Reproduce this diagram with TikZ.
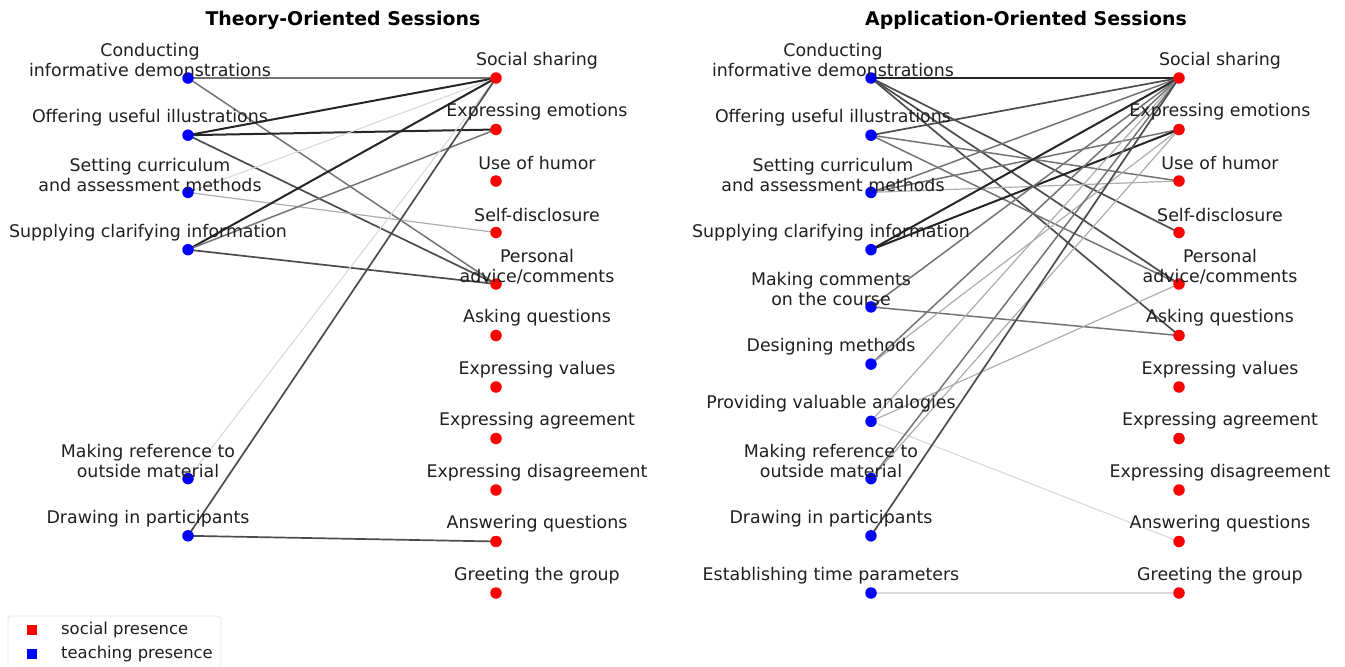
\documentclass[tikz,border=0pt]{standalone}
\usepackage{fontspec}
\setmainfont{DejaVu Sans}
\begin{document}
\begin{tikzpicture}[x=1pt,y=-1pt,
  tdot/.style={circle,fill=blue,inner sep=0pt,minimum size=11.5pt},
  sdot/.style={circle,fill=red,inner sep=0pt,minimum size=11.5pt},
  lab/.style={font=\fontsize{17.4}{20}\selectfont,align=center,inner sep=0pt,text=black!88,yshift=-1.5pt},
  ttl/.style={font=\fontsize{18.9}{22}\selectfont\bfseries,inner sep=0pt},
  dk/.style={draw=black!85,line width=2pt},
  dm/.style={draw=black!70,line width=1.7pt},
  md/.style={draw=black!55,line width=1.5pt},
  lt/.style={draw=black!32,line width=1.2pt},
  vl/.style={draw=black!15,line width=1.1pt},
  legtext/.style={font=\fontsize{16.4}{18}\selectfont,anchor=west,inner sep=0pt,text=black!88}]
\useasboundingbox (0,0) rectangle (1345,667);

% ---------- titles
\node[ttl] (t1) at (343,20) {Theory-Oriented Sessions};
\node[ttl] (t2) at (1026,20) {Application-Oriented Sessions};

% ---------- left panel nodes
\coordinate (lC) at (188,78);
\coordinate (lO) at (188,135.2);
\coordinate (lS) at (188,192.4);
\coordinate (lSu) at (188,249.7);
\coordinate (lM) at (188,478.6);
\coordinate (lD) at (188,535.8);

\coordinate (lSS) at (496,78);
\coordinate (lEE) at (496,129.5);
\coordinate (lUH) at (496,181);
\coordinate (lSD) at (496,232.5);
\coordinate (lPA) at (496,284);
\coordinate (lAQ) at (496,335.5);
\coordinate (lEV) at (496,387);
\coordinate (lEA) at (496,438.5);
\coordinate (lED) at (496,490);
\coordinate (lAN) at (496,541.5);
\coordinate (lGG) at (496,593);

% left edges
\draw[md] (lC) -- (lSS);
\draw[md] (lC) -- (lPA);
\draw[dk] (lO) -- (lSS);
\draw[dk] (lO) -- (lEE);
\draw[dm] (lO) -- (lPA);
\draw[vl] (lS) -- (lSS);
\draw[lt] (lS) -- (lSD);
\draw[dk] (lSu) -- (lSS);
\draw[md] (lSu) -- (lEE);
\draw[dm] (lSu) -- (lPA);
\draw[vl] (lM) -- (lSS);
\draw[dm] (lD) -- (lSS);
\draw[dm] (lD) -- (lAN);

% left dots
\foreach \n in {lC,lO,lS,lSu,lM,lD} \node[tdot] (\n d) at (\n) {};
\foreach \n in {lSS,lEE,lUH,lSD,lPA,lAQ,lEV,lEA,lED,lAN,lGG} \node[sdot] (\n d) at (\n) {};

% left labels
\node[lab] (lCt) at (150,59) {Conducting\\informative demonstrations};
\node[lab] (lOt) at (150,116.2) {Offering useful illustrations};
\node[lab] (lSt) at (150,173.4) {Setting curriculum\\and assessment methods};
\node[lab] (lSut) at (148,230.7) {Supplying clarifying information};
\node[lab] (lMt) at (148,459.6) {Making reference to\\outside material};
\node[lab] (lDt) at (148,516.8) {Drawing in participants};

\node[lab] (lSSt) at (537,59) {Social sharing};
\node[lab] (lEEt) at (537,110.5) {Expressing emotions};
\node[lab] (lUHt) at (537,162) {Use of humor};
\node[lab] (lSDt) at (537,213.5) {Self-disclosure};
\node[lab] (lPAt) at (537,265) {Personal\\advice/comments};
\node[lab] (lAQt) at (537,316.5) {Asking questions};
\node[lab] (lEVt) at (537,368) {Expressing values};
\node[lab] (lEAt) at (537,419.5) {Expressing agreement};
\node[lab] (lEDt) at (537,471) {Expressing disagreement};
\node[lab] (lANt) at (537,522.5) {Answering questions};
\node[lab] (lGGt) at (537,574) {Greeting the group};

% ---------- right panel nodes
\coordinate (rC) at (871,78);
\coordinate (rO) at (871,135.2);
\coordinate (rS) at (871,192.4);
\coordinate (rSu) at (871,249.7);
\coordinate (rMC) at (871,306.9);
\coordinate (rDM) at (871,364.1);
\coordinate (rP) at (871,421.3);
\coordinate (rM) at (871,478.6);
\coordinate (rD) at (871,535.8);
\coordinate (rE) at (871,593);

\coordinate (rSS) at (1179,78);
\coordinate (rEE) at (1179,129.5);
\coordinate (rUH) at (1179,181);
\coordinate (rSD) at (1179,232.5);
\coordinate (rPA) at (1179,284);
\coordinate (rAQ) at (1179,335.5);
\coordinate (rEV) at (1179,387);
\coordinate (rEA) at (1179,438.5);
\coordinate (rED) at (1179,490);
\coordinate (rAN) at (1179,541.5);
\coordinate (rGG) at (1179,593);

% right edges
\draw[dk] (rC) -- (rSS);
\draw[dm] (rC) -- (rSD);
\draw[dm] (rC) -- (rPA);
\draw[dm] (rC) -- (rAQ);
\draw[dm] (rO) -- (rSS);
\draw[md] (rO) -- (rUH);
\draw[md] (rO) -- (rPA);
\draw[md] (rS) -- (rSS);
\draw[md] (rS) -- (rEE);
\draw[lt] (rS) -- (rUH);
\draw[dk] (rSu) -- (rSS);
\draw[dk] (rSu) -- (rEE);
\draw[md] (rMC) -- (rSS);
\draw[md] (rMC) -- (rAQ);
\draw[md] (rDM) -- (rSS);
\draw[lt] (rDM) -- (rEE);
\draw[lt] (rP) -- (rSS);
\draw[lt] (rP) -- (rPA);
\draw[vl] (rP) -- (rAN);
\draw[md] (rM) -- (rSS);
\draw[lt] (rM) -- (rEE);
\draw[dm] (rD) -- (rSS);
\draw[vl] (rE) -- (rGG);

% right dots
\foreach \n in {rC,rO,rS,rSu,rMC,rDM,rP,rM,rD,rE} \node[tdot] (\n d) at (\n) {};
\foreach \n in {rSS,rEE,rUH,rSD,rPA,rAQ,rEV,rEA,rED,rAN,rGG} \node[sdot] (\n d) at (\n) {};

% right labels
\node[lab] (rCt) at (833,59) {Conducting\\informative demonstrations};
\node[lab] (rOt) at (833,116.2) {Offering useful illustrations};
\node[lab] (rSt) at (833,173.4) {Setting curriculum\\and assessment methods};
\node[lab] (rSut) at (831,230.7) {Supplying clarifying information};
\node[lab] (rMCt) at (831,287.9) {Making comments\\on the course};
\node[lab] (rDMt) at (831,345.1) {Designing methods};
\node[lab] (rPt) at (831,402.3) {Providing valuable analogies};
\node[lab] (rMt) at (831,459.6) {Making reference to\\outside material};
\node[lab] (rDt) at (831,516.8) {Drawing in participants};
\node[lab] (rEt) at (831,574) {Establishing time parameters};

\node[lab] (rSSt) at (1220,59) {Social sharing};
\node[lab] (rEEt) at (1220,110.5) {Expressing emotions};
\node[lab] (rUHt) at (1220,162) {Use of humor};
\node[lab] (rSDt) at (1220,213.5) {Self-disclosure};
\node[lab] (rPAt) at (1220,265) {Personal\\advice/comments};
\node[lab] (rAQt) at (1220,316.5) {Asking questions};
\node[lab] (rEVt) at (1220,368) {Expressing values};
\node[lab] (rEAt) at (1220,419.5) {Expressing agreement};
\node[lab] (rEDt) at (1220,471) {Expressing disagreement};
\node[lab] (rANt) at (1220,522.5) {Answering questions};
\node[lab] (rGGt) at (1220,574) {Greeting the group};

% ---------- legend
\draw[draw=black!10,line width=0.8pt,rounded corners=3pt,fill=white] (8,616) rectangle (221,675);
\node[fill=red,inner sep=0pt,minimum size=10pt] (lgS) at (32,630) {};
\node[fill=blue,inner sep=0pt,minimum size=10pt] (lgT) at (32,654) {};
\node[legtext] (lgSt) at (61,630) {social presence};
\node[legtext] (lgTt) at (61,654) {teaching presence};
\end{tikzpicture}
\end{document}
